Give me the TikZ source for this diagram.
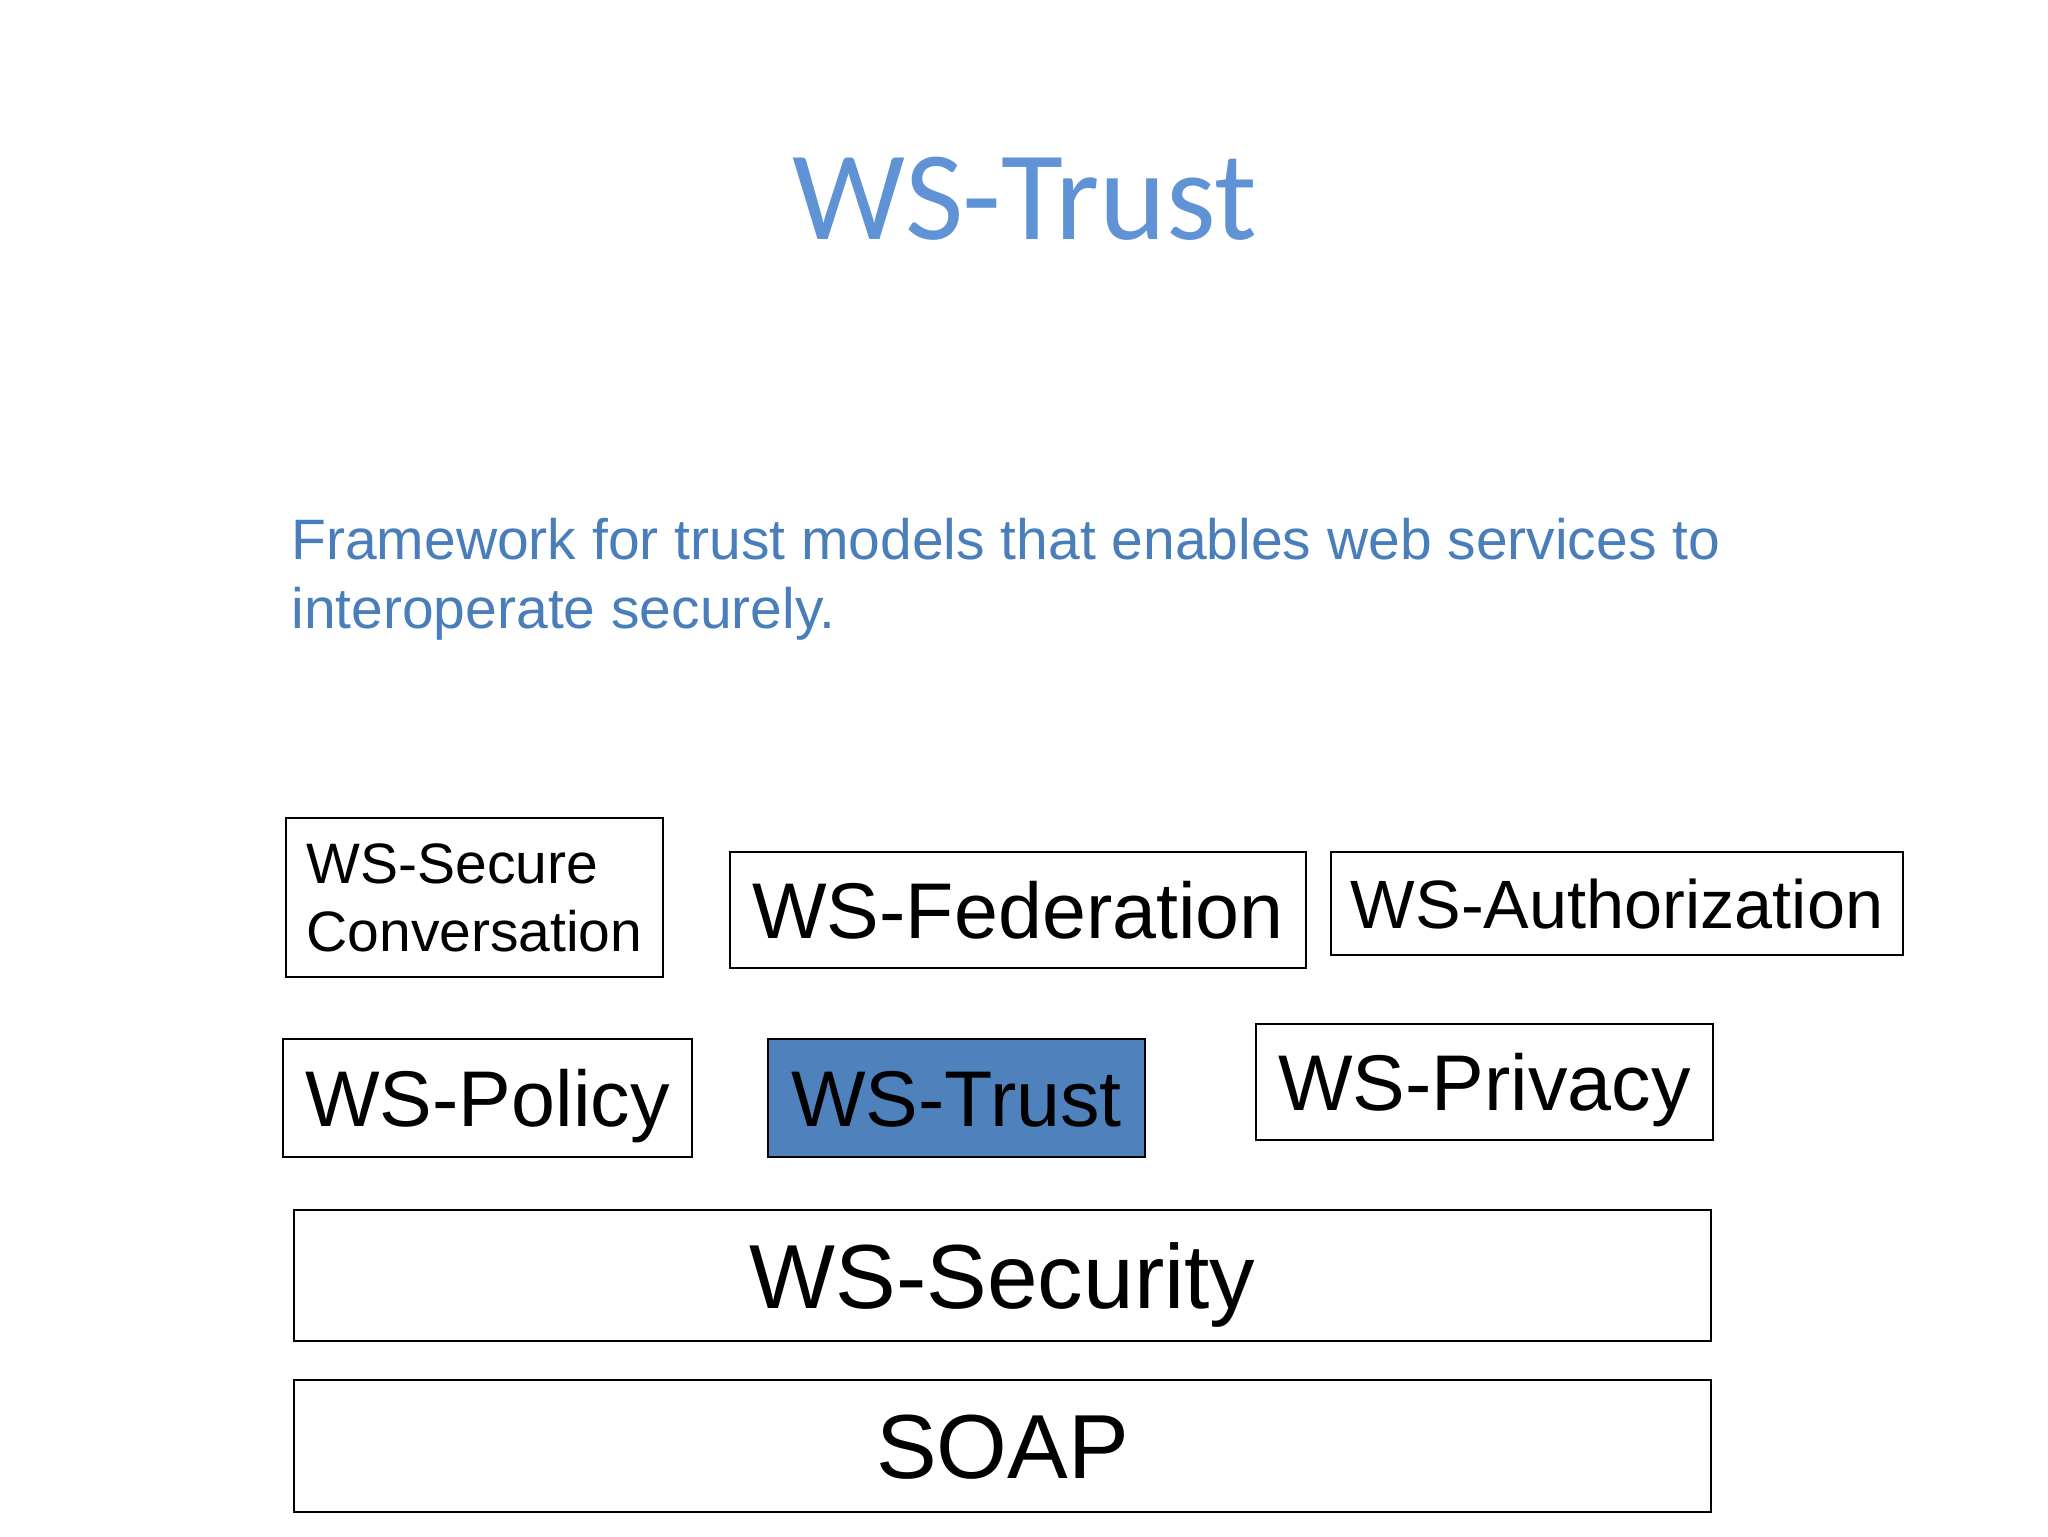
\documentclass[tikz,border=0pt]{standalone}
\usepackage{fontspec}
\setmainfont{Liberation Sans}
\newfontfamily\titlefont{Carlito}
\definecolor{titleblue}{RGB}{96,146,214}
\definecolor{textblue}{RGB}{74,126,187}
\definecolor{trustfill}{RGB}{79,129,189}

\begin{document}
\begin{tikzpicture}
	[x=0.5pt, y=-0.5pt,
	box/.style={draw, line width=1pt, inner sep=0pt, text depth=0pt},
	midbox/.style={box, text height=28.3pt, font=\fontsize{39.5}{47}\selectfont},
	bigbox/.style={box, text height=32.6pt, font=\fontsize{45.5}{54}\selectfont, minimum width=708.5pt, minimum height=65.5pt}]
	\useasboundingbox[fill=white] (0,0) rectangle (2048,1536);
	\node[anchor=base, text=titleblue, font=\titlefont\fontsize{63.5}{72}\selectfont] (title) at (1025,239) {WS-Trust};
	\node[anchor=base west, align=left, inner sep=0pt, text=textblue, font=\fontsize{28.5}{34.5}\selectfont] (desc) at (291,628)
		{Framework for trust models that enables web services to\\interoperate securely.};
	\node[draw, line width=1pt, inner sep=0pt, align=left, font=\fontsize{28.5}{34}\selectfont, minimum width=188.5pt, minimum height=79.5pt] (secconv) at (474.5,897.5) {WS-Secure\\Conversation};
	\node[midbox, minimum width=288pt, minimum height=58pt] (fed) at (1018,910) {WS-Federation};
	\node[box, text height=24.5pt, font=\fontsize{34.2}{41}\selectfont, minimum width=286pt, minimum height=51.5pt] (auth) at (1617,903.5) {WS-Authorization};
	\node[midbox, minimum width=204.5pt, minimum height=59pt] (policy) at (487.5,1098) {WS-Policy};
	\node[midbox, fill=trustfill, minimum width=188.5pt, minimum height=59pt] (trust) at (956.5,1098) {WS-Trust};
	\node[midbox, minimum width=228.5pt, minimum height=58pt] (privacy) at (1484.5,1082) {WS-Privacy};
	\node[bigbox] (security) at (1002.5,1275.5) {WS-Security};
	\node[bigbox, minimum height=66pt] (soap) at (1002.5,1446) {SOAP};
\end{tikzpicture}
\end{document}
